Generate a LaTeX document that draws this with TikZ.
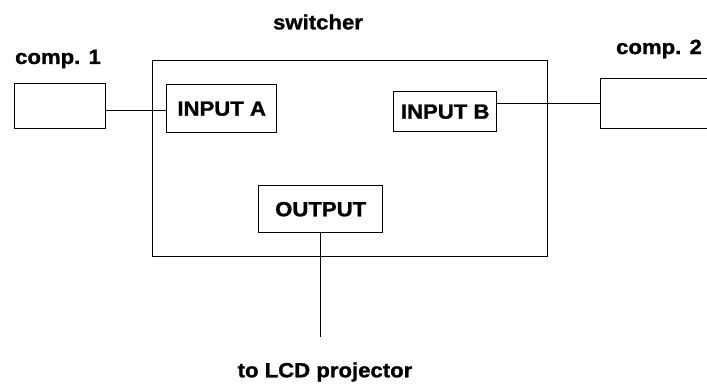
\documentclass[tikz,border=0pt]{standalone}
\usepackage{fontspec}
\setmainfont{Liberation Sans}[FakeStretch=1.08, BoldFeatures={FakeBold=1.2}]
\begin{document}
\begin{tikzpicture}[x=1pt,y=-1pt,
  lbl/.style={font=\bfseries\fontsize{20.5}{23}\selectfont, inner sep=0pt},
  box/.style={draw, line width=1.4pt, inner sep=0pt, anchor=north west},
  wire/.style={line width=1.4pt}]
\useasboundingbox (0,0) rectangle (707,387);
% switcher frame
\node[box, minimum width=395pt, minimum height=196pt] (sw) at (152,60) {};
\node[lbl] (swl) at (318,22) {switcher};
% computers
\node[box, minimum width=91pt, minimum height=45pt] (c1) at (14,83) {};
\node[lbl] (c1l) at (58,59) {comp. 1};
\node[box, minimum width=130pt, minimum height=50pt] (c2) at (600,78) {};
\node[lbl] (c2l) at (659,49) {comp. 2};
% inputs / output
\node[box, minimum width=110pt, minimum height=48pt] (ina) at (166,84) {};
\node[lbl] at (ina.center) {INPUT A};
\node[box, minimum width=103pt, minimum height=40pt] (inb) at (393,91) {};
\node[lbl] at (inb.center) {INPUT B};
\node[box, minimum width=124pt, minimum height=47pt] (out) at (258,185) {};
\node[lbl] at (out.center) {OUTPUT};
\node[lbl] (lcd) at (325,372) {to LCD projector};
\coordinate (lcdtop) at (320,337);
% wires
\draw[wire] ([yshift=-4.5pt]c1.east) -- ([yshift=-4.5pt]c1.east -| ina.west);
\draw[wire] (inb.east |- c2.west) -- (c2.west);
\draw[wire] (out.south) -- (out.south |- lcdtop);
\end{tikzpicture}
\end{document}
